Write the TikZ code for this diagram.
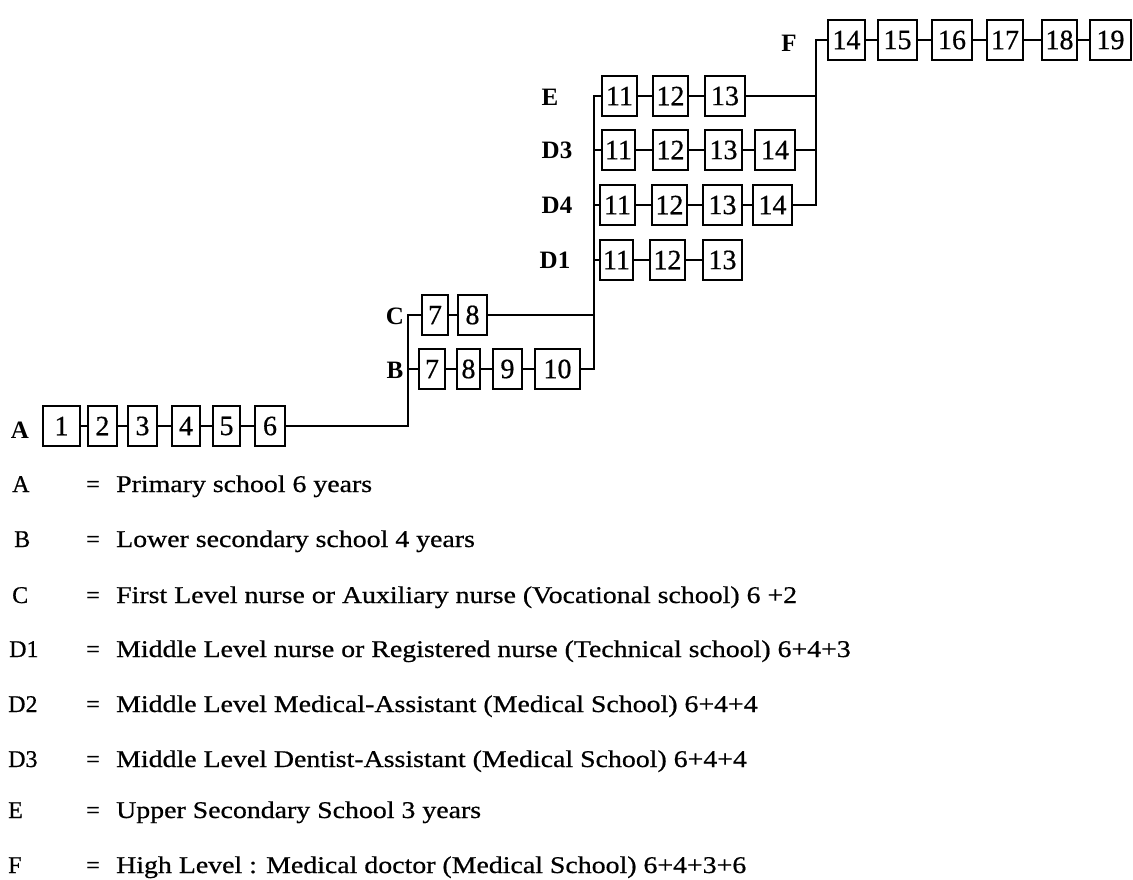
\documentclass[tikz,border=0pt]{standalone}
\usepackage{fontspec}
\setmainfont{Liberation Serif}
\newfontfamily\heavyserif{Liberation Serif}[FakeBold=0.6]
\begin{document}
\begin{tikzpicture}[x=1pt,y=-1pt,
  yr/.style={draw, line width=2pt, minimum height=40pt, inner sep=0pt, font=\heavyserif\fontsize{28}{28}\selectfont},
  lab/.style={font=\fontsize{25}{25}\selectfont\bfseries, inner sep=0pt},
  conn/.style={line width=2pt},
  leg/.style={anchor=base west, inner sep=0pt, font=\heavyserif\fontsize{24}{24}\selectfont}]
\useasboundingbox (0,0) rectangle (1133,879);

% ---- row A
\node[lab] (lA) at (20,430) {A};
\node[yr, minimum width=37pt] (a1) at (61.5,426) {1};
\node[yr, minimum width=29pt] (a2) at (102.5,426) {2};
\node[yr, minimum width=29pt] (a3) at (142.5,426) {3};
\node[yr, minimum width=28pt] (a4) at (186,426) {4};
\node[yr, minimum width=27pt] (a5) at (226.5,426) {5};
\node[yr, minimum width=30pt] (a6) at (270,426) {6};

% ---- row B
\node[lab] (lB) at (395,370) {B};
\node[yr, minimum width=26pt] (b7) at (432,369) {7};
\node[yr, minimum width=23pt] (b8) at (468.5,369) {8};
\node[yr, minimum width=29pt] (b9) at (507.5,369) {9};
\node[yr, minimum width=45pt] (b10) at (557.5,369) {10};

% ---- row C
\node[lab] (lC) at (395,316) {C};
\node[yr, minimum width=26pt] (c7) at (435,315) {7};
\node[yr, minimum width=29pt] (c8) at (472.5,315) {8};

% ---- row E
\node[lab] (lE) at (550,97) {E};
\node[yr, minimum width=35pt] (e11) at (619.5,96) {11};
\node[yr, minimum width=35pt] (e12) at (670.5,96) {12};
\node[yr, minimum width=40pt] (e13) at (725,96) {13};

% ---- row D3
\node[lab] (lD3) at (557,150) {D3};
\node[yr, minimum width=33pt] (dt11) at (618.5,150) {11};
\node[yr, minimum width=35pt] (dt12) at (670.5,150) {12};
\node[yr, minimum width=37pt] (dt13) at (723.5,150) {13};
\node[yr, minimum width=40pt] (dt14) at (775,150) {14};

% ---- row D4
\node[lab] (lD4) at (557,205) {D4};
\node[yr, minimum width=35pt] (df11) at (617.5,205) {11};
\node[yr, minimum width=35pt] (df12) at (669.5,205) {12};
\node[yr, minimum width=39pt] (df13) at (722.5,205) {13};
\node[yr, minimum width=39pt] (df14) at (772.5,205) {14};

% ---- row D1
\node[lab] (lD1) at (555,260) {D1};
\node[yr, minimum width=33pt] (do11) at (616.5,260) {11};
\node[yr, minimum width=35pt] (do12) at (667.5,260) {12};
\node[yr, minimum width=39pt] (do13) at (722.5,260) {13};

% ---- row F
\node[lab] (lF) at (789,43) {F};
\node[yr, minimum width=37pt] (f14) at (846.5,40) {14};
\node[yr, minimum width=39pt] (f15) at (897.5,40) {15};
\node[yr, minimum width=40pt] (f16) at (952,40) {16};
\node[yr, minimum width=36pt] (f17) at (1005,40) {17};
\node[yr, minimum width=35pt] (f18) at (1059.5,40) {18};
\node[yr, minimum width=41pt] (f19) at (1110.5,40) {19};

% ---- connectors within rows
\draw[conn] (a1) -- (a2) (a2) -- (a3) (a3) -- (a4) (a4) -- (a5) (a5) -- (a6);
\draw[conn] (b7) -- (b8) (b8) -- (b9) (b9) -- (b10);
\draw[conn] (c7) -- (c8);
\draw[conn] (e11) -- (e12) (e12) -- (e13);
\draw[conn] (dt11) -- (dt12) (dt12) -- (dt13) (dt13) -- (dt14);
\draw[conn] (df11) -- (df12) (df12) -- (df13) (df13) -- (df14);
\draw[conn] (do11) -- (do12) (do12) -- (do13);
\draw[conn] (f14) -- (f15) (f15) -- (f16) (f16) -- (f17) (f17) -- (f18) (f18) -- (f19);

% ---- branching verticals
\coordinate (v1) at (408,315);
\coordinate (v2) at (594,96);
\coordinate (v3) at (816,40);
\draw[conn] (a6.east) -| (v1) -- (c7.west);
\draw[conn] (b7.west) -- (b7.west -| v1);
\draw[conn] (b10.east) -| (v2) -- (e11.west);
\draw[conn] (c8.east) -- (c8.east -| v2);
\draw[conn] (dt11.west) -- (dt11.west -| v2);
\draw[conn] (df11.west) -- (df11.west -| v2);
\draw[conn] (do11.west) -- (do11.west -| v2);
\draw[conn] (df14.east) -| (v3) -- (f14.west);
\draw[conn] (e13.east) -- (e13.east -| v3);
\draw[conn] (dt14.east) -- (dt14.east -| v3);

% ---- legend
\node[leg] (kA) at (12,492) {A};
\node[leg] (qA) at (86,492) {=};
\node[leg] (tA) at (116,492) {\scalebox{1.16}[1]{Primary school 6 years}};
\node[leg] (kB) at (14,547) {B};
\node[leg] (qB) at (86,547) {=};
\node[leg] (tB) at (116,547) {\scalebox{1.16}[1]{Lower secondary school 4 years}};
\node[leg] (kC) at (12,603) {C};
\node[leg] (qC) at (86,603) {=};
\node[leg] (tC) at (116,603) {\scalebox{1.16}[1]{First Level nurse or Auxiliary nurse (Vocational school) 6 +2}};
\node[leg] (kD1) at (9,657) {D1};
\node[leg] (qD1) at (86,657) {=};
\node[leg] (tD1) at (116,657) {\scalebox{1.16}[1]{Middle Level nurse or Registered nurse (Technical school) 6+4+3}};
\node[leg] (kD2) at (8,712) {D2};
\node[leg] (qD2) at (86,712) {=};
\node[leg] (tD2) at (116,712) {\scalebox{1.16}[1]{Middle Level Medical-Assistant (Medical School) 6+4+4}};
\node[leg] (kD3) at (8,767) {D3};
\node[leg] (qD3) at (86,767) {=};
\node[leg] (tD3) at (116,767) {\scalebox{1.16}[1]{Middle Level Dentist-Assistant (Medical School) 6+4+4}};
\node[leg] (kE) at (8,818) {E};
\node[leg] (qE) at (86,818) {=};
\node[leg] (tE) at (116,818) {\scalebox{1.16}[1]{Upper Secondary School 3 years}};
\node[leg] (kF) at (8,873) {F};
\node[leg] (qF) at (86,873) {=};
\node[leg] (tF) at (116,873) {\scalebox{1.16}[1]{High Level : Medical doctor (Medical School) 6+4+3+6}};
\end{tikzpicture}
\end{document}
